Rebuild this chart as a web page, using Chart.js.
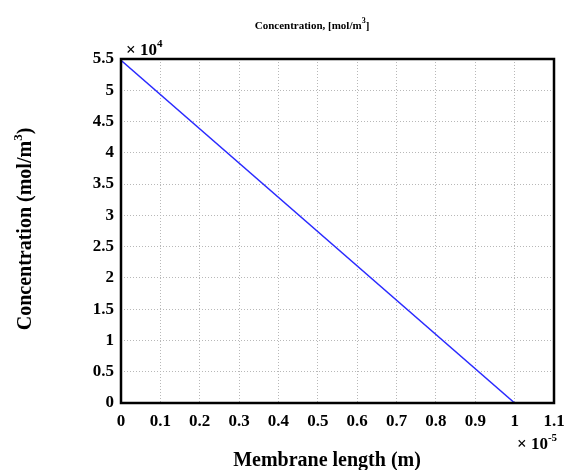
<!DOCTYPE html>
<html>
<head>
<meta charset="utf-8">
<script src="https://cdn.jsdelivr.net/npm/chart.js@4/dist/chart.umd.min.js"></script>
<style>
html,body{margin:0;padding:0;background:#fff;}
#wrap{width:566px;height:470px;position:relative;}
</style>
</head>
<body>
<div id="wrap"><canvas id="c" width="566" height="470"></canvas></div>
<script>
// Membrane length (units of 1e-5 m) and concentration (units of 1e4 mol/m^3)
const membraneLength = [0, 1.0];
const concentration = [5.48, 0];
const xTicks = [0, 0.1, 0.2, 0.3, 0.4, 0.5, 0.6, 0.7, 0.8, 0.9, 1, 1.1];
const yTicks = [0, 0.5, 1, 1.5, 2, 2.5, 3, 3.5, 4, 4.5, 5, 5.5];
const chartTitle = "Concentration, [mol/m";
const xTitle = "Membrane length (m)";
const yTitle = "Concentration (mol/m";

const serif = '"Liberation Serif", "Times New Roman", serif';

const textPlugin = {
  id: 'texts',
  afterDraw(chart) {
    const ctx = chart.ctx;
    const a = chart.chartArea;
    ctx.save();
    // frame
    ctx.strokeStyle = '#000';
    ctx.lineWidth = 2.5;
    ctx.strokeRect(a.left, a.top, a.right - a.left, a.bottom - a.top);
    ctx.fillStyle = '#000';
    ctx.textBaseline = 'alphabetic';
    // chart title with superscript 3
    ctx.font = 'bold 11px ' + serif;
    let w1 = ctx.measureText(chartTitle).width;
    ctx.font = 'bold 8px ' + serif;
    let w2 = ctx.measureText('3').width;
    ctx.font = 'bold 11px ' + serif;
    let w3 = ctx.measureText(']').width;
    let tx = 312 - (w1 + w2 + w3) / 2;
    ctx.textAlign = 'left';
    ctx.fillText(chartTitle, tx, 29);
    ctx.font = 'bold 8px ' + serif;
    ctx.fillText('3', tx + w1, 23);
    ctx.font = 'bold 11px ' + serif;
    ctx.fillText(']', tx + w1 + w2, 29);

    // y multiplier
    ctx.font = 'bold 17px ' + serif;
    ctx.fillText('\u00d7 10', 126, 55);
    let wm = ctx.measureText('\u00d7 10').width;
    ctx.font = 'bold 11px ' + serif;
    ctx.fillText('4', 126 + wm, 47);

    // x multiplier
    ctx.font = 'bold 17px ' + serif;
    ctx.fillText('\u00d7 10', 517, 449);
    wm = ctx.measureText('\u00d7 10').width;
    ctx.font = 'bold 11px ' + serif;
    ctx.fillText('-5', 517 + wm, 441);

    // x axis title
    ctx.font = 'bold 20px ' + serif;
    ctx.textAlign = 'center';
    ctx.fillText(xTitle, 327, 466);

    // y axis title rotated
    ctx.translate(31, 229);
    ctx.rotate(-Math.PI / 2);
    ctx.font = 'bold 20px ' + serif;
    let y1 = ctx.measureText(yTitle).width;
    ctx.font = 'bold 13px ' + serif;
    let y2 = ctx.measureText('3').width;
    ctx.font = 'bold 20px ' + serif;
    let y3 = ctx.measureText(')').width;
    let sx = -(y1 + y2 + y3) / 2;
    ctx.textAlign = 'left';
    ctx.fillText(yTitle, sx, 0);
    ctx.font = 'bold 13px ' + serif;
    ctx.fillText('3', sx + y1, -9);
    ctx.font = 'bold 20px ' + serif;
    ctx.fillText(')', sx + y1 + y2, 0);
    ctx.restore();
  }
};

new Chart(document.getElementById('c'), {
  type: 'scatter',
  data: {
    datasets: [{
      data: membraneLength.map((x, i) => ({x: x, y: concentration[i]})),
      showLine: true,
      borderColor: '#2a2aff',
      borderWidth: 1.5,
      pointRadius: 0,
      fill: false
    }]
  },
  options: {
    responsive: false,
    animation: false,
    layout: {padding: {top: 59, right: 12, left: 0, bottom: 0}},
    plugins: {legend: {display: false}, title: {display: false}, tooltip: {enabled: false}},
    scales: {
      x: {
        type: 'linear',
        min: 0, max: 1.1,
        afterBuildTicks: s => { s.ticks = xTicks.map(v => ({value: v})); },
        afterFit: s => { s.height = 67; s.paddingLeft = 0; s.paddingRight = 0; },
        grid: {color: '#b8b8b8', lineWidth: 1, drawTicks: false},
        border: {display: false, dash: [1, 2]},
        ticks: {
          padding: 8, maxRotation: 0, autoSkip: false,
          color: '#000',
          font: {family: serif, size: 17, weight: 'bold'},
          callback: v => String(Math.round(v * 10) / 10)
        }
      },
      y: {
        type: 'linear',
        min: 0, max: 5.5,
        afterBuildTicks: s => { s.ticks = yTicks.map(v => ({value: v})); },
        afterFit: s => { s.width = 121; s.paddingTop = 0; s.paddingBottom = 0; },
        grid: {color: '#b8b8b8', lineWidth: 1, drawTicks: false},
        border: {display: false, dash: [1, 2]},
        ticks: {
          padding: 7, autoSkip: false,
          color: '#000',
          font: {family: serif, size: 17, weight: 'bold'},
          callback: v => String(Math.round(v * 10) / 10)
        }
      }
    }
  },
  plugins: [textPlugin]
});
</script>
</body>
</html>
